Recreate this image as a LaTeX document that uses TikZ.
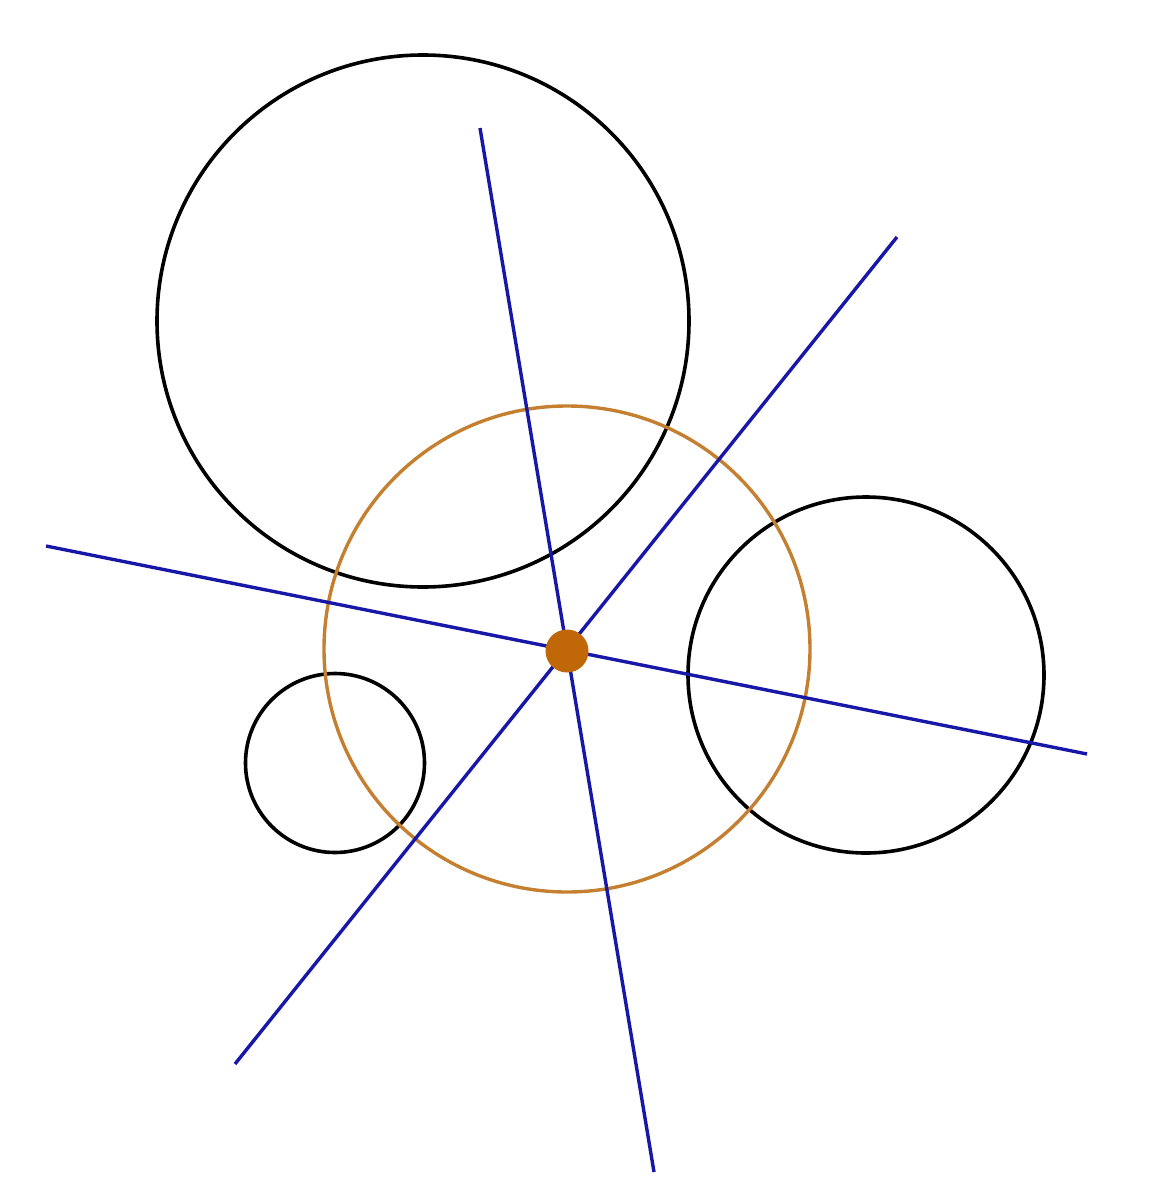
\documentclass[tikz,border=0pt]{standalone}
\begin{document}
\begin{tikzpicture}[x=1pt,y=-1pt,
  blk/.style={draw=black,line width=3.6pt},
  org/.style={draw=orangec,line width=3.4pt},
  bl/.style={draw=bluec,line width=3.4pt}]
\definecolor{orangec}{RGB}{196,128,48}
\definecolor{dotc}{RGB}{192,104,8}
\definecolor{bluec}{RGB}{24,24,168}
\useasboundingbox (0,0) rectangle (1156,1200);
\coordinate (a1) at (480,128);
\coordinate (a2) at (654,1172);
\coordinate (b1) at (897,237);
\coordinate (b2) at (235,1064);
\coordinate (c1) at (46,546);
\coordinate (c2) at (1087,754);
\draw[blk] (423,321) circle (266);
\draw[blk] (866,675) circle (178);
\draw[blk] (335,763) circle (89.5);
\draw[org] (567,649) circle (243);
\draw[bl] (a1) -- (a2);
\draw[bl] (b1) -- (b2);
\draw[bl] (c1) -- (c2);
\node[circle,fill=dotc,minimum size=43pt,inner sep=0pt] (p) at (567,651) {};
\end{tikzpicture}
\end{document}
